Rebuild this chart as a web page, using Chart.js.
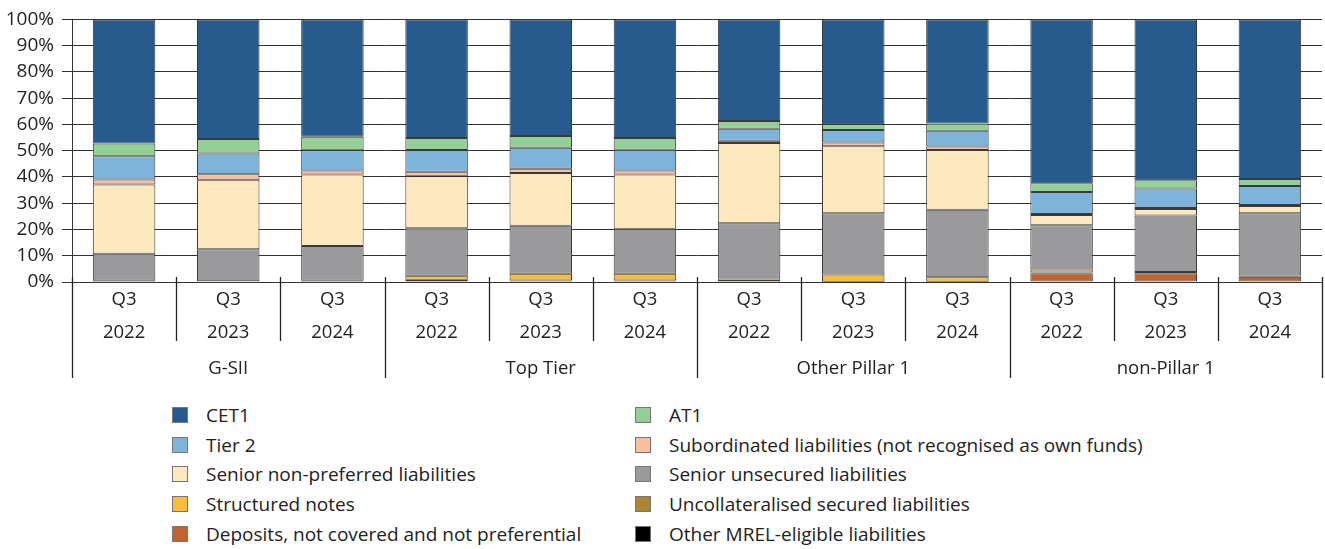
<!DOCTYPE html>
<html>
<head>
<meta charset="utf-8">
<script src="https://cdn.jsdelivr.net/npm/chart.js@4.4.1/dist/chart.umd.min.js"></script>
<style>
    body { margin: 0; background: #fff; font-family: "Open Sans", sans-serif; color: #222; }
    #wrap { position: relative; width: 1325px; height: 549px; }
    #chart-box { position: absolute; left: 0; top: 0; width: 1325px; height: 386px; }
    #legend { position: absolute; left: 172px; top: 400px; display: grid; grid-template-columns: 463px 560px; }
    .item { display: flex; align-items: center; height: 29.7px; font-size: 19px; white-space: nowrap; }
    .swatch { width: 14px; height: 14px; border: 1px solid #777; margin-right: 18px; box-sizing: content-box; }
</style>
</head>
<body>
<div id="wrap">
    <div id="chart-box"><canvas id="mrel-chart"></canvas></div>
    <div id="legend"></div>
</div>
<script>
// 分类
const quarters = ['Q3', 'Q3', 'Q3', 'Q3', 'Q3', 'Q3', 'Q3', 'Q3', 'Q3', 'Q3', 'Q3', 'Q3'];
const years = ['2022', '2023', '2024', '2022', '2023', '2024', '2022', '2023', '2024', '2022', '2023', '2024'];
const groups = ['G-SII', 'Top Tier', 'Other Pillar 1', 'non-Pillar 1'];
const yTicks = [0, 10, 20, 30, 40, 50, 60, 70, 80, 90, 100];

// 系列数据 (%)，按图例顺序
const cet1 =          [47.3, 45.5, 44.7, 45.2, 44.4, 45.2, 38.7, 39.9, 39.6, 62.4, 61.3, 60.8];
const at1 =           [4.8, 5.6, 5.1, 4.5, 4.5, 4.4, 2.9, 2.2, 2.8, 3.3, 3.1, 2.6];
const tier2 =         [8.9, 7.9, 7.7, 8.3, 8.0, 7.9, 4.6, 4.8, 6.0, 8.4, 7.4, 7.3];
const subordinated =  [1.9, 2.3, 1.6, 1.7, 1.6, 1.6, 0.9, 1.4, 1.3, 0.4, 0.4, 0.4];
const seniorNonPref = [26.3, 26.2, 27.2, 19.8, 20.1, 20.6, 30.5, 25.5, 22.8, 3.9, 2.5, 2.7];
const seniorUnsec =   [10.3, 12.2, 13.2, 18.1, 18.3, 17.2, 21.1, 23.3, 25.7, 16.8, 21.5, 23.7];
const structured =    [0.5, 0, 0.5, 1.5, 2.5, 2.5, 0.9, 2.8, 1.7, 1.2, 0, 0];
const uncollat =      [0, 0, 0, 0, 0, 0, 0, 0, 0, 0.3, 0.5, 0.5];
const deposits =      [0, 0, 0, 0.5, 0.6, 0.6, 0.4, 0.1, 0.1, 3.3, 3.3, 2.0];
const otherMrel =     [0, 0.3, 0, 0.4, 0, 0, 0, 0, 0, 0, 0, 0];

const seriesNames = ['CET1', 'AT1', 'Tier 2', 'Subordinated liabilities (not recognised as own funds)',
    'Senior non-preferred liabilities', 'Senior unsecured liabilities', 'Structured notes',
    'Uncollateralised secured liabilities', 'Deposits, not covered and not preferential', 'Other MREL-eligible liabilities'];
const seriesData = [cet1, at1, tier2, subordinated, seniorNonPref, seniorUnsec, structured, uncollat, deposits, otherMrel];
const seriesColors = ['#285b8d', '#94cf96', '#7fb4da', '#f7bea0', '#fde9bd', '#9a9a9c', '#fbbc3b', '#a88633', '#c2622f', '#000000'];

const FONT = 'Open Sans';

// 画分隔线（类别和分组）
const separatorPlugin = {
    id: 'separators',
    afterDraw(chart) {
        const xs = chart.scales.x;
        const ctx = chart.ctx;
        const bottom = chart.chartArea.bottom;
        const step = xs.getPixelForValue(1) - xs.getPixelForValue(0);
        const start = xs.getPixelForValue(0) - step / 2;
        ctx.save();
        ctx.strokeStyle = '#222';
        ctx.lineWidth = 1.3;
        for (let i = 0; i <= years.length; i++) {
            const x = Math.round(start + i * step) + 0.5;
            const end = i % 3 === 0 ? bottom + 96 : bottom + 59;
            ctx.beginPath();
            ctx.moveTo(x, bottom - 5);
            ctx.lineTo(x, end);
            ctx.stroke();
        }
        ctx.restore();
    }
};

document.addEventListener('DOMContentLoaded', function () {
    const ctx = document.getElementById('mrel-chart').getContext('2d');

    // 堆叠顺序与图例相反：最后一个系列在底部
    const datasets = seriesNames.map((name, i) => ({
        label: name,
        data: seriesData[i],
        backgroundColor: seriesColors[i],
        borderColor: '#3a3a3a',
        borderWidth: 1,
        borderSkipped: false,
        barPercentage: 0.6,
        categoryPercentage: 1.0
    })).reverse();

    new Chart(ctx, {
        type: 'bar',
        data: {
            labels: quarters.map((q, i) => [q, years[i]]),
            datasets: datasets
        },
        options: {
            responsive: true,
            maintainAspectRatio: false,
            animation: false,
            layout: { padding: { top: 17, right: 3, left: 0, bottom: 0 } },
            plugins: {
                legend: { display: false },
                tooltip: { enabled: false }
            },
            scales: {
                x: {
                    stacked: true,
                    grid: { display: false },
                    border: { display: false },
                    ticks: {
                        color: '#222',
                        font: { family: FONT, size: 18.5, lineHeight: 1.78 },
                        padding: -7,
                        maxRotation: 0,
                        autoSkip: false
                    },
                    afterFit: s => { s.height = 70; }
                },
                x2: {
                    type: 'category',
                    position: 'bottom',
                    labels: groups,
                    offset: true,
                    grid: { display: false },
                    border: { display: false },
                    ticks: {
                        color: '#222',
                        font: { family: FONT, size: 18.5 },
                        padding: -2,
                        maxRotation: 0
                    },
                    afterFit: s => { s.height = 34; }
                },
                y: {
                    stacked: true,
                    min: 0,
                    max: 100,
                    afterBuildTicks: s => { s.ticks = yTicks.map(v => ({ value: v })); },
                    grid: { color: '#333', lineWidth: 1, tickLength: 10 },
                    border: { display: true, color: '#333' },
                    ticks: {
                        color: '#222',
                        font: { family: FONT, size: 19 },
                        padding: 8,
                        callback: v => v + '%'
                    },
                    afterFit: s => { s.width = 72; }
                }
            }
        },
        plugins: [separatorPlugin]
    });

    // 图例（两列）
    const legend = document.getElementById('legend');
    seriesNames.forEach((name, i) => {
        const item = document.createElement('div');
        item.className = 'item';
        item.innerHTML = `<span class="swatch" style="background:${seriesColors[i]}"></span><span>${name}</span>`;
        legend.appendChild(item);
    });
});
</script>
</body>
</html>
